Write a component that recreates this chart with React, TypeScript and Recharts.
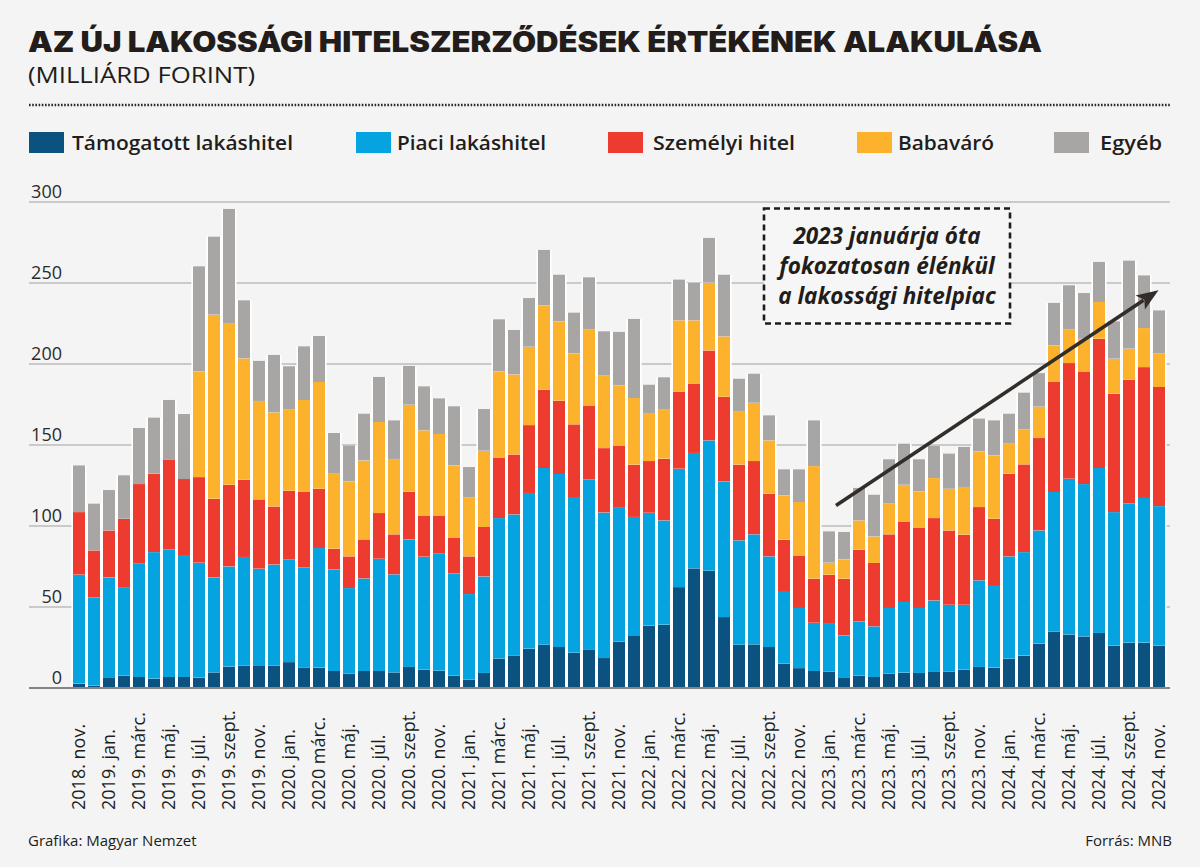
import React from 'react';
import { BarChart, Bar, XAxis, YAxis, CartesianGrid, ReferenceLine, ReferenceArea } from 'recharts';

const months = [
  '2018. nov.', '2018. dec.',
  '2019. jan.', '2019. febr.', '2019. márc.', '2019. ápr.', '2019. máj.', '2019. jún.', '2019. júl.', '2019. aug.', '2019. szept.', '2019. okt.', '2019. nov.', '2019. dec.',
  '2020. jan.', '2020. febr.', '2020 márc.', '2020. ápr.', '2020. máj.', '2020. jún.', '2020. júl.', '2020. aug.', '2020. szept.', '2020. okt.', '2020. nov.', '2020. dec.',
  '2021. jan.', '2021. febr.', '2021 márc.', '2021. ápr.', '2021. máj.', '2021. jún.', '2021. júl.', '2021. aug.', '2021. szept.', '2021. okt.', '2021. nov.', '2021. dec.',
  '2022. jan.', '2022. febr.', '2022. márc.', '2022. ápr.', '2022. máj.', '2022. jún.', '2022. júl.', '2022. aug.', '2022. szept.', '2022. okt.', '2022. nov.', '2022. dec.',
  '2023. jan.', '2023. febr.', '2023. márc.', '2023. ápr.', '2023. máj.', '2023. jún.', '2023. júl.', '2023. aug.', '2023. szept.', '2023. okt.', '2023. nov.', '2023. dec.',
  '2024. jan.', '2024. febr.', '2024. márc.', '2024. ápr.', '2024. máj.', '2024. jún.', '2024. júl.', '2024. aug.', '2024. szept.', '2024. okt.', '2024. nov.',
];

const tickLabels = [
  '2018. nov.', '2019. jan.', '2019. márc.', '2019. máj.', '2019. júl.', '2019. szept.', '2019. nov.',
  '2020. jan.', '2020 márc.', '2020. máj.', '2020. júl.', '2020. szept.', '2020. nov.',
  '2021. jan.', '2021 márc.', '2021. máj.', '2021. júl.', '2021. szept.', '2021. nov.',
  '2022. jan.', '2022. márc.', '2022. máj.', '2022. júl.', '2022. szept.', '2022. nov.',
  '2023. jan.', '2023. márc.', '2023. máj.', '2023. júl.', '2023. szept.', '2023. nov.',
  '2024. jan.', '2024. márc.', '2024. máj.', '2024. júl.', '2024. szept.', '2024. nov.',
];

const tamogatott = [
  2.7, 1.6, 6.2, 7.6, 6.8, 5.8, 6.8, 6.8, 6.4, 9.7, 13.2, 14.0,
  13.6, 14.0, 16.0, 12.8, 12.6, 10.5, 8.8, 10.5, 10.5, 9.7, 13.0, 11.3,
  10.7, 7.8, 5.1, 9.3, 18.3, 20.2, 24.3, 26.7, 25.3, 21.8, 23.5, 18.5,
  28.8, 32.1, 38.5, 39.1, 62.3, 73.9, 72.4, 43.8, 26.7, 27.0, 25.3, 15.0,
  12.3, 10.5, 10.3, 6.2, 7.8, 6.8, 8.8, 9.5, 9.3, 9.9, 10.3, 11.3,
  13.0, 12.6, 18.1, 20.0, 27.4, 35.0, 33.1, 31.9, 34.0, 26.3, 28.0, 28.0, 26.3,
];

const piaci = [
  67.3, 54.2, 62.1, 54.7, 69.9, 78.1, 78.6, 75.3, 71.0, 58.6, 61.9, 66.9,
  60.1, 62.3, 63.2, 61.5, 73.8, 62.8, 52.9, 57.2, 69.3, 60.5, 78.8, 69.8,
  72.2, 62.8, 52.9, 59.6, 86.6, 87.0, 96.1, 109.1, 106.8, 96.1, 105.1, 89.9,
  82.9, 73.5, 69.7, 64.4, 73.1, 71.2, 80.5, 83.8, 64.5, 67.9, 56.0, 44.3,
  37.1, 29.8, 29.8, 26.3, 33.4, 31.3, 40.6, 43.6, 40.1, 44.2, 41.1, 40.1,
  53.5, 50.4, 63.2, 63.9, 69.9, 86.0, 96.1, 94.0, 101.8, 82.3, 85.8, 89.3, 86.0,
];

const szemelyi = [
  38.6, 29.2, 29.0, 42.2, 49.2, 48.4, 55.8, 46.9, 52.8, 48.6, 50.4, 47.7,
  42.8, 35.8, 42.6, 47.1, 36.6, 12.7, 19.6, 24.1, 28.2, 24.7, 29.4, 25.5,
  23.7, 22.4, 23.3, 30.5, 37.1, 37.0, 41.9, 48.4, 45.3, 44.9, 45.5, 39.7,
  38.1, 32.3, 31.9, 38.1, 47.7, 42.6, 55.5, 52.2, 46.7, 45.2, 38.7, 32.3,
  32.5, 27.2, 29.9, 35.0, 44.2, 39.1, 45.5, 49.4, 49.4, 50.8, 45.9, 43.3,
  45.2, 41.5, 51.0, 54.2, 57.0, 67.9, 71.4, 69.6, 79.8, 73.1, 76.5, 80.8, 73.5,
];

const babavaro = [
  0, 0, 0, 0, 0, 0, 0, 0, 65.3, 113.6, 99.8, 74.9,
  60.7, 58.1, 50.0, 56.4, 65.9, 46.7, 46.3, 48.7, 56.2, 46.5, 53.7, 52.5,
  50.2, 44.4, 36.2, 47.1, 53.5, 49.4, 48.4, 52.0, 48.9, 43.8, 47.1, 44.7,
  37.0, 41.1, 29.2, 30.6, 43.9, 39.3, 41.8, 37.3, 33.1, 36.0, 32.9, 27.3,
  32.9, 69.5, 7.4, 11.9, 18.1, 16.4, 18.9, 23.0, 22.6, 24.7, 25.7, 29.4,
  34.4, 39.1, 18.9, 21.4, 19.4, 22.6, 20.6, 20.1, 22.7, 21.6, 19.2, 24.1, 20.6,
];

const egyeb = [
  28.8, 28.8, 24.9, 26.8, 34.6, 34.6, 36.6, 40.1, 64.8, 48.1, 70.4, 35.8,
  24.7, 35.4, 26.8, 33.1, 28.4, 24.7, 22.2, 28.8, 27.8, 23.8, 23.9, 27.1,
  22.0, 36.5, 18.9, 25.7, 32.1, 27.4, 30.0, 34.2, 28.8, 25.1, 32.3, 27.4,
  33.0, 48.8, 17.9, 19.6, 25.1, 23.0, 27.6, 38.0, 19.9, 17.9, 15.4, 16.1,
  20.2, 28.2, 19.3, 16.9, 20.0, 25.7, 27.4, 25.3, 19.8, 19.8, 21.7, 24.7,
  20.2, 21.6, 18.1, 22.8, 20.7, 26.2, 27.4, 28.2, 24.7, 23.0, 54.3, 32.5, 26.7,
];

const yTicks = [0, 50, 100, 150, 200, 250, 300];

const seriesKeys = ['tamogatott', 'piaci', 'szemelyi', 'babavaro', 'egyeb'];
const seriesNames = ['Támogatott lakáshitel', 'Piaci lakáshitel', 'Személyi hitel', 'Babaváró', 'Egyéb'];
const seriesColors = ['#0b5281', '#05a3df', '#ee3b2f', '#fdb22d', '#a8a5a5'];

// annotation (data coordinates)
const noteLines = ['2023 januárja óta', 'fokozatosan élénkül', 'a lakossági hitelpiac'];
const noteFrom = { month: '2022. szept.', value: 296 };
const noteTo = { month: '2024. jan.', value: 225 };
const arrowFrom = { month: '2023. jan.', value: 109.5 };
const arrowTo = { month: '2024. nov.', value: 245.5 };

const data = months.map((m, i) => ({
  month: m,
  tamogatott: tamogatott[i],
  piaci: piaci[i],
  szemelyi: szemelyi[i],
  babavaro: babavaro[i],
  egyeb: egyeb[i],
}));

const FONT = "'Open Sans', 'Noto Sans', sans-serif";
const INK = '#221d1a';

const makeBarShape = (fill: string) => (props: any) => {
  const { x, y, width, height } = props;
  if (!height || height <= 0) return <g />;
  return (
    <g>
      <rect x={x - 1.6} y={y} width={width + 3.2} height={height} fill="#ffffff" />
      <rect x={x} y={y} width={width} height={height} fill={fill} />
    </g>
  );
};

const XTick = (props: any) => {
  const { x, y, payload } = props;
  const bx = x + 6.5;
  const by = y + 122;
  return (
    <text
      x={bx}
      y={by}
      transform={`rotate(-90, ${bx}, ${by})`}
      textAnchor="start"
      fontFamily={FONT}
      fontSize={18}
      fill={INK}
    >
      {payload.value}
    </text>
  );
};

const YTick = (props: any) => {
  const { x, y, payload } = props;
  return (
    <text x={x + 33} y={y - 4} textAnchor="end" fontFamily={FONT} fontSize={18} fill="#2b2b2b">
      {payload.value}
    </text>
  );
};

const ArrowShape = (props: any) => {
  const { x1, y1, x2, y2 } = props;
  if ([x1, y1, x2, y2].some((v) => v == null || isNaN(v))) return <g />;
  const dx = x2 - x1;
  const dy = y2 - y1;
  const len = Math.sqrt(dx * dx + dy * dy);
  const ux = dx / len;
  const uy = dy / len;
  const sx = x1 + ux * 9;
  const sy = y1 + uy * 9;
  const headLen = 22;
  const headHalf = 8.5;
  const bx = x2 - ux * headLen;
  const by = y2 - uy * headLen;
  const px = -uy;
  const py = ux;
  return (
    <g>
      <line x1={sx} y1={sy} x2={bx + ux * 4} y2={by + uy * 4} stroke="#332d2a" strokeWidth={3.6} />
      <polygon
        points={`${x2},${y2} ${bx + px * headHalf},${by + py * headHalf} ${bx + ux * 5},${by + uy * 5} ${bx - px * headHalf},${by - py * headHalf}`}
        fill="#332d2a"
      />
    </g>
  );
};

const NoteBox = (props: any) => {
  const { x, y, width, height } = props;
  if ([x, y, width, height].some((v) => v == null || isNaN(v))) return <g />;
  const rx = x + 3;
  const rw = width - 9;
  const cx = rx + rw / 2;
  return (
    <g>
      <rect x={rx} y={y} width={rw} height={height} fill="#f6f6f6" stroke="#1f1b18" strokeWidth={2.6} strokeDasharray="6 4" />
      {noteLines.map((line, i) => (
        <text
          key={line}
          x={cx}
          y={y + 36 + i * 30}
          textAnchor="middle"
          fontFamily={FONT}
          fontStyle="italic"
          fontWeight={700}
          fontSize={22.5}
          fill={INK}
        >
          {line}
        </text>
      ))}
    </g>
  );
};

const legendLayout = [
  { box: 29, text: 72, len: 221 },
  { box: 356, text: 397, len: 149 },
  { box: 608, text: 653, len: 142 },
  { box: 857, text: 898, len: 96 },
  { box: 1054, text: 1100, len: 62 },
];

export default function App() {
  return (
    <div
      style={{
        position: 'absolute',
        left: 0,
        top: 0,
        width: 1200,
        height: 867,
        background: '#f4f4f4',
        overflow: 'hidden',
      }}
    >
      <svg width={1200} height={867} style={{ position: 'absolute', left: 0, top: 0 }}>
        <text
          x={28}
          y={52}
          fontFamily="Inter, 'Open Sans', sans-serif"
          fontWeight={900}
          fontSize={28}
          fill={INK}
          textLength={1014}
          lengthAdjust="spacingAndGlyphs"
        >
          AZ ÚJ LAKOSSÁGI HITELSZERZŐDÉSEK ÉRTÉKÉNEK ALAKULÁSA
        </text>
        <text
          x={28}
          y={83}
          fontFamily={FONT}
          fontWeight={400}
          fontSize={21}
          fill={INK}
          textLength={227}
          lengthAdjust="spacingAndGlyphs"
        >
          (MILLIÁRD FORINT)
        </text>
        <line x1={29} y1={105} x2={1170} y2={105} stroke="#2a2522" strokeWidth={2.4} strokeDasharray="1.6 1.6" />
        {seriesNames.map((name, i) => (
          <g key={name}>
            <rect x={legendLayout[i].box} y={132} width={35} height={21} fill={seriesColors[i]} />
            <text
              x={legendLayout[i].text}
              y={150}
              fontFamily={FONT}
              fontWeight={600}
              fontSize={20}
              fill={INK}
              textLength={legendLayout[i].len}
              lengthAdjust="spacingAndGlyphs"
            >
              {name}
            </text>
          </g>
        ))}
        <text x={28} y={846} fontFamily={FONT} fontSize={15} fill={INK}>
          Grafika: Magyar Nemzet
        </text>
        <text x={1172} y={846} textAnchor="end" fontFamily={FONT} fontSize={15} fill={INK}>
          Forrás: MNB
        </text>
      </svg>
      <div style={{ position: 'absolute', left: 0, top: 0 }}>
        <BarChart
          width={1200}
          height={867}
          data={data}
          margin={{ top: 202, right: 30, bottom: 49, left: 28 }}
          barSize={12}
        >
          <CartesianGrid vertical={false} stroke="#bdbdbd" strokeWidth={1.3} />
          <XAxis
            dataKey="month"
            type="category"
            ticks={tickLabels}
            interval={0}
            height={130}
            padding={{ left: 42, right: 4 }}
            axisLine={{ stroke: '#858585', strokeWidth: 2.2 }}
            tickLine={false}
            tickSize={0}
            tickMargin={0}
            tick={<XTick />}
          />
          <YAxis
            type="number"
            domain={[0, 300]}
            ticks={yTicks}
            width={1}
            axisLine={false}
            tickLine={false}
            tickSize={0}
            tickMargin={0}
            tick={<YTick />}
          />
          {seriesKeys.map((key, i) => (
            <Bar
              key={key}
              dataKey={key}
              name={seriesNames[i]}
              stackId="a"
              fill={seriesColors[i]}
              shape={makeBarShape(seriesColors[i])}
              isAnimationActive={false}
            />
          ))}
          <ReferenceArea
            x1={noteFrom.month}
            x2={noteTo.month}
            y1={noteTo.value}
            y2={noteFrom.value}
            ifOverflow="visible"
            shape={<NoteBox />}
          />
          <ReferenceLine
            segment={[
              { x: arrowFrom.month, y: arrowFrom.value },
              { x: arrowTo.month, y: arrowTo.value },
            ]}
            ifOverflow="visible"
            shape={<ArrowShape />}
          />
        </BarChart>
      </div>
    </div>
  );
}
